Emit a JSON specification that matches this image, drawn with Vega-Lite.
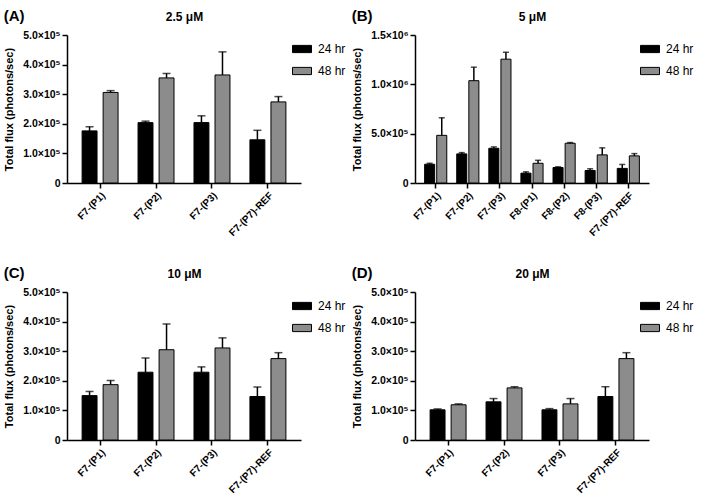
{
  "$schema": "https://vega.github.io/schema/vega-lite/v6.json",
  "padding": {"left": 3, "top": 9, "right": 0, "bottom": 0},
  "config": {
    "view": {"stroke": null},
    "font": "Liberation Sans",
    "axis": {
      "grid": false,
      "domainColor": "black", "domainWidth": 1.5,
      "tickColor": "black", "tickWidth": 1.5, "tickSize": 5,
      "labelFont": "Liberation Sans", "labelFontWeight": "bold", "labelFontSize": 10.5, "labelColor": "black", "labelOverlap": false,
      "titleFont": "Liberation Sans", "titleFontWeight": "bold", "titleFontSize": 11, "titleColor": "black"
    },
    "axisX": {"labelFontSize": 10},
    "axisY": {"labelOverlap": false, "titlePadding": 8},
    "axisQuantitative": {"labelOverlap": false},
    "legend": {
      "orient": "none", "legendX": 225, "legendY": 4,
      "symbolType": "M-1,-0.38H1V0.38H-1Z", "symbolSize": 361,
      "symbolStrokeColor": "black", "symbolStrokeWidth": 1, "symbolOpacity": 1,
      "labelFont": "Liberation Sans", "labelFontSize": 12, "labelColor": "black",
      "rowPadding": 6, "labelOffset": 6
    },
    "title": {"font": "Liberation Sans", "fontWeight": "bold", "fontSize": 15, "color": "black", "anchor": "start", "frame": "bounds", "offset": -14}
  },
  "datasets": {
    "A": [
      {"sample": "F7-(P1)", "time": "24 hr", "flux": 176000, "upper": 190000},
      {"sample": "F7-(P1)", "time": "48 hr", "flux": 306000, "upper": 312000},
      {"sample": "F7-(P2)", "time": "24 hr", "flux": 204000, "upper": 209000},
      {"sample": "F7-(P2)", "time": "48 hr", "flux": 355000, "upper": 370000},
      {"sample": "F7-(P3)", "time": "24 hr", "flux": 204000, "upper": 227000},
      {"sample": "F7-(P3)", "time": "48 hr", "flux": 365000, "upper": 443000},
      {"sample": "F7-(P7)-REF", "time": "24 hr", "flux": 146000, "upper": 178000},
      {"sample": "F7-(P7)-REF", "time": "48 hr", "flux": 274000, "upper": 292000}
    ],
    "B": [
      {"sample": "F7-(P1)", "time": "24 hr", "flux": 190000, "upper": 200000},
      {"sample": "F7-(P1)", "time": "48 hr", "flux": 483000, "upper": 661000},
      {"sample": "F7-(P2)", "time": "24 hr", "flux": 295000, "upper": 308000},
      {"sample": "F7-(P2)", "time": "48 hr", "flux": 1037000, "upper": 1174000},
      {"sample": "F7-(P3)", "time": "24 hr", "flux": 352000, "upper": 366000},
      {"sample": "F7-(P3)", "time": "48 hr", "flux": 1255000, "upper": 1325000},
      {"sample": "F8-(P1)", "time": "24 hr", "flux": 100000, "upper": 113000},
      {"sample": "F8-(P1)", "time": "48 hr", "flux": 200000, "upper": 230000},
      {"sample": "F8-(P2)", "time": "24 hr", "flux": 157000, "upper": 164000},
      {"sample": "F8-(P2)", "time": "48 hr", "flux": 403000, "upper": 410000},
      {"sample": "F8-(P3)", "time": "24 hr", "flux": 127000, "upper": 144000},
      {"sample": "F8-(P3)", "time": "48 hr", "flux": 285000, "upper": 356000},
      {"sample": "F7-(P7)-REF", "time": "24 hr", "flux": 148000, "upper": 188000},
      {"sample": "F7-(P7)-REF", "time": "48 hr", "flux": 275000, "upper": 298000}
    ],
    "C": [
      {"sample": "F7-(P1)", "time": "24 hr", "flux": 150000, "upper": 164000},
      {"sample": "F7-(P1)", "time": "48 hr", "flux": 187000, "upper": 201000},
      {"sample": "F7-(P2)", "time": "24 hr", "flux": 229000, "upper": 277000},
      {"sample": "F7-(P2)", "time": "48 hr", "flux": 305000, "upper": 392000},
      {"sample": "F7-(P3)", "time": "24 hr", "flux": 229000, "upper": 247000},
      {"sample": "F7-(P3)", "time": "48 hr", "flux": 311000, "upper": 345000},
      {"sample": "F7-(P7)-REF", "time": "24 hr", "flux": 147000, "upper": 179000},
      {"sample": "F7-(P7)-REF", "time": "48 hr", "flux": 275000, "upper": 295000}
    ],
    "D": [
      {"sample": "F7-(P1)", "time": "24 hr", "flux": 102000, "upper": 105000},
      {"sample": "F7-(P1)", "time": "48 hr", "flux": 119000, "upper": 122000},
      {"sample": "F7-(P2)", "time": "24 hr", "flux": 129000, "upper": 140000},
      {"sample": "F7-(P2)", "time": "48 hr", "flux": 176000, "upper": 180000},
      {"sample": "F7-(P3)", "time": "24 hr", "flux": 102000, "upper": 106000},
      {"sample": "F7-(P3)", "time": "48 hr", "flux": 122000, "upper": 140000},
      {"sample": "F7-(P7)-REF", "time": "24 hr", "flux": 147000, "upper": 180000},
      {"sample": "F7-(P7)-REF", "time": "48 hr", "flux": 275000, "upper": 295000}
    ]
  },
  "spacing": 28,
  "resolve": {"scale": {"x": "independent", "y": "independent", "xOffset": "independent", "color": "independent"}, "legend": {"color": "independent"}, "axis": {"x": "independent", "y": "independent"}},
  "vconcat": [
    {
      "spacing": 5,
      "resolve": {"scale": {"x": "independent", "y": "independent", "xOffset": "independent", "color": "independent"}, "legend": {"color": "independent"}, "axis": {"x": "independent", "y": "independent"}},
      "hconcat": [
        {
          "title": {"text": "(A)"},
          "width": 234, "height": 148,
          "data": {"name": "A"},
          "resolve": {"axis": {"x": "independent"}},
          "encoding": {
            "x": {"field": "sample", "type": "nominal", "sort": null, "scale": {"paddingInner": 0.357, "paddingOuter": 0.27}, "axis": {"title": null, "labelAngle": -45, "labelPadding": 2}},
            "xOffset": {"field": "time", "type": "nominal", "scale": {"paddingInner": 0.29}},
            "y": {"field": "flux", "type": "quantitative", "title": "Total flux (photons/sec)", "scale": {"domain": [0, 500000], "nice": false}, "axis": {"labelOverlap": false, "values": [0, 100000, 200000, 300000, 400000, 500000], "labelExpr": "datum.value == 0 ? '0' : datum.value >= 1000000 ? format(datum.value/1000000, '.1f') + '×10⁶' : format(datum.value/100000, '.1f') + '×10⁵'"}}
          },
          "layer": [
            {
              "mark": {"type": "bar", "stroke": "black", "strokeWidth": 1},
              "encoding": {
                "color": {"field": "time", "type": "nominal", "title": null, "scale": {"domain": ["24 hr", "48 hr"], "range": ["#000000", "#8c8c8c"]}}
              }
            },
            {
              "mark": {"type": "rule", "color": "black", "strokeWidth": 1.5},
              "encoding": {
                "x": {"field": "sample", "type": "nominal", "sort": null, "axis": null},
                "y2": {"field": "upper"}
              }
            },
            {
              "mark": {"type": "tick", "color": "black", "thickness": 1.5, "size": 8},
              "encoding": {
                "x": {"field": "sample", "type": "nominal", "sort": null, "axis": {"orient": "top", "title": "2.5 μM", "labels": false, "ticks": false, "domain": false, "titlePadding": 12, "titleFontSize": 12}},
                "y": {"field": "upper", "type": "quantitative", "title": "Total flux (photons/sec)", "axis": {"labelOverlap": false, "values": [0, 100000, 200000, 300000, 400000, 500000], "labelExpr": "datum.value == 0 ? '0' : datum.value >= 1000000 ? format(datum.value/1000000, '.1f') + '×10⁶' : format(datum.value/100000, '.1f') + '×10⁵'"}}
              }
            }
          ]
        },
        {
          "title": {"text": "(B)"},
          "width": 234, "height": 148,
          "data": {"name": "B"},
          "resolve": {"axis": {"x": "independent"}},
          "encoding": {
            "x": {"field": "sample", "type": "nominal", "sort": null, "scale": {"paddingInner": 0.31, "paddingOuter": 0.3}, "axis": {"title": null, "labelAngle": -45, "labelPadding": 2}},
            "xOffset": {"field": "time", "type": "nominal", "scale": {"paddingInner": 0.17}},
            "y": {"field": "flux", "type": "quantitative", "title": "Total flux (photons/sec)", "scale": {"domain": [0, 1500000], "nice": false}, "axis": {"labelOverlap": false, "values": [0, 500000, 1000000, 1500000], "labelExpr": "datum.value == 0 ? '0' : datum.value >= 1000000 ? format(datum.value/1000000, '.1f') + '×10⁶' : format(datum.value/100000, '.1f') + '×10⁵'"}}
          },
          "layer": [
            {
              "mark": {"type": "bar", "stroke": "black", "strokeWidth": 1},
              "encoding": {
                "color": {"field": "time", "type": "nominal", "title": null, "scale": {"domain": ["24 hr", "48 hr"], "range": ["#000000", "#8c8c8c"]}}
              }
            },
            {
              "mark": {"type": "rule", "color": "black", "strokeWidth": 1.5},
              "encoding": {
                "x": {"field": "sample", "type": "nominal", "sort": null, "axis": null},
                "y2": {"field": "upper"}
              }
            },
            {
              "mark": {"type": "tick", "color": "black", "thickness": 1.5, "size": 6},
              "encoding": {
                "x": {"field": "sample", "type": "nominal", "sort": null, "axis": {"orient": "top", "title": "5 μM", "labels": false, "ticks": false, "domain": false, "titlePadding": 12, "titleFontSize": 12}},
                "y": {"field": "upper", "type": "quantitative", "title": "Total flux (photons/sec)", "axis": {"labelOverlap": false, "values": [0, 500000, 1000000, 1500000], "labelExpr": "datum.value == 0 ? '0' : datum.value >= 1000000 ? format(datum.value/1000000, '.1f') + '×10⁶' : format(datum.value/100000, '.1f') + '×10⁵'"}}
              }
            }
          ]
        }
      ]
    },
    {
      "spacing": 5,
      "resolve": {"scale": {"x": "independent", "y": "independent", "xOffset": "independent", "color": "independent"}, "legend": {"color": "independent"}, "axis": {"x": "independent", "y": "independent"}},
      "hconcat": [
        {
          "title": {"text": "(C)"},
          "width": 234, "height": 148,
          "data": {"name": "C"},
          "resolve": {"axis": {"x": "independent"}},
          "encoding": {
            "x": {"field": "sample", "type": "nominal", "sort": null, "scale": {"paddingInner": 0.357, "paddingOuter": 0.27}, "axis": {"title": null, "labelAngle": -45, "labelPadding": 2}},
            "xOffset": {"field": "time", "type": "nominal", "scale": {"paddingInner": 0.29}},
            "y": {"field": "flux", "type": "quantitative", "title": "Total flux (photons/sec)", "scale": {"domain": [0, 500000], "nice": false}, "axis": {"labelOverlap": false, "values": [0, 100000, 200000, 300000, 400000, 500000], "labelExpr": "datum.value == 0 ? '0' : datum.value >= 1000000 ? format(datum.value/1000000, '.1f') + '×10⁶' : format(datum.value/100000, '.1f') + '×10⁵'"}}
          },
          "layer": [
            {
              "mark": {"type": "bar", "stroke": "black", "strokeWidth": 1},
              "encoding": {
                "color": {"field": "time", "type": "nominal", "title": null, "scale": {"domain": ["24 hr", "48 hr"], "range": ["#000000", "#8c8c8c"]}}
              }
            },
            {
              "mark": {"type": "rule", "color": "black", "strokeWidth": 1.5},
              "encoding": {
                "x": {"field": "sample", "type": "nominal", "sort": null, "axis": null},
                "y2": {"field": "upper"}
              }
            },
            {
              "mark": {"type": "tick", "color": "black", "thickness": 1.5, "size": 8},
              "encoding": {
                "x": {"field": "sample", "type": "nominal", "sort": null, "axis": {"orient": "top", "title": "10 μM", "labels": false, "ticks": false, "domain": false, "titlePadding": 12, "titleFontSize": 12}},
                "y": {"field": "upper", "type": "quantitative", "title": "Total flux (photons/sec)", "axis": {"labelOverlap": false, "values": [0, 100000, 200000, 300000, 400000, 500000], "labelExpr": "datum.value == 0 ? '0' : datum.value >= 1000000 ? format(datum.value/1000000, '.1f') + '×10⁶' : format(datum.value/100000, '.1f') + '×10⁵'"}}
              }
            }
          ]
        },
        {
          "title": {"text": "(D)"},
          "width": 234, "height": 148,
          "data": {"name": "D"},
          "resolve": {"axis": {"x": "independent"}},
          "encoding": {
            "x": {"field": "sample", "type": "nominal", "sort": null, "scale": {"paddingInner": 0.357, "paddingOuter": 0.27}, "axis": {"title": null, "labelAngle": -45, "labelPadding": 2}},
            "xOffset": {"field": "time", "type": "nominal", "scale": {"paddingInner": 0.29}},
            "y": {"field": "flux", "type": "quantitative", "title": "Total flux (photons/sec)", "scale": {"domain": [0, 500000], "nice": false}, "axis": {"labelOverlap": false, "values": [0, 100000, 200000, 300000, 400000, 500000], "labelExpr": "datum.value == 0 ? '0' : datum.value >= 1000000 ? format(datum.value/1000000, '.1f') + '×10⁶' : format(datum.value/100000, '.1f') + '×10⁵'"}}
          },
          "layer": [
            {
              "mark": {"type": "bar", "stroke": "black", "strokeWidth": 1},
              "encoding": {
                "color": {"field": "time", "type": "nominal", "title": null, "scale": {"domain": ["24 hr", "48 hr"], "range": ["#000000", "#8c8c8c"]}}
              }
            },
            {
              "mark": {"type": "rule", "color": "black", "strokeWidth": 1.5},
              "encoding": {
                "x": {"field": "sample", "type": "nominal", "sort": null, "axis": null},
                "y2": {"field": "upper"}
              }
            },
            {
              "mark": {"type": "tick", "color": "black", "thickness": 1.5, "size": 8},
              "encoding": {
                "x": {"field": "sample", "type": "nominal", "sort": null, "axis": {"orient": "top", "title": "20 μM", "labels": false, "ticks": false, "domain": false, "titlePadding": 12, "titleFontSize": 12}},
                "y": {"field": "upper", "type": "quantitative", "title": "Total flux (photons/sec)", "axis": {"labelOverlap": false, "values": [0, 100000, 200000, 300000, 400000, 500000], "labelExpr": "datum.value == 0 ? '0' : datum.value >= 1000000 ? format(datum.value/1000000, '.1f') + '×10⁶' : format(datum.value/100000, '.1f') + '×10⁵'"}}
              }
            }
          ]
        }
      ]
    }
  ]
}
